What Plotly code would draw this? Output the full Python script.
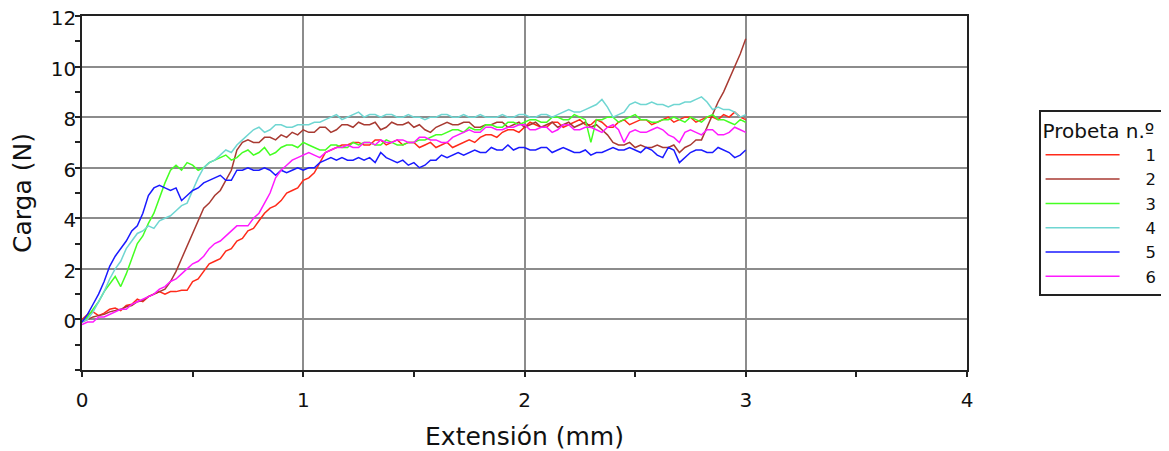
import plotly.graph_objects as go

# Extension (mm) sampling grid (0.025 mm steps)
X = [0.000, 0.025, 0.050, 0.075, 0.100, 0.125, 0.150, 0.175, 0.200, 0.225,
     0.250, 0.275, 0.300, 0.325, 0.350, 0.375, 0.400, 0.425, 0.450, 0.475,
     0.500, 0.525, 0.550, 0.575, 0.600, 0.625, 0.650, 0.675, 0.700, 0.725,
     0.750, 0.775, 0.800, 0.825, 0.850, 0.875, 0.900, 0.925, 0.950, 0.975,
     1.000, 1.025, 1.050, 1.075, 1.100, 1.125, 1.150, 1.175, 1.200, 1.225,
     1.250, 1.275, 1.300, 1.325, 1.350, 1.375, 1.400, 1.425, 1.450, 1.475,
     1.500, 1.525, 1.550, 1.575, 1.600, 1.625, 1.650, 1.675, 1.700, 1.725,
     1.750, 1.775, 1.800, 1.825, 1.850, 1.875, 1.900, 1.925, 1.950, 1.975,
     2.000, 2.025, 2.050, 2.075, 2.100, 2.125, 2.150, 2.175, 2.200, 2.225,
     2.250, 2.275, 2.300, 2.325, 2.350, 2.375, 2.400, 2.425, 2.450, 2.475,
     2.500, 2.525, 2.550, 2.575, 2.600, 2.625, 2.650, 2.675, 2.700, 2.725,
     2.750, 2.775, 2.800, 2.825, 2.850, 2.875, 2.900, 2.925, 2.950, 2.975,
     3.000]

# Load (N) for each specimen ("Probeta")
probeta_1 = [0.0, 0.2, 0.3, 0.15, 0.25, 0.4, 0.45, 0.35, 0.55, 0.6,
             0.8, 0.7, 0.9, 1.0, 1.1, 1.0, 1.1, 1.1, 1.15, 1.15,
             1.5, 1.6, 1.9, 2.2, 2.3, 2.4, 2.7, 2.8, 3.1, 3.2,
             3.5, 3.6, 3.9, 4.2, 4.4, 4.5, 4.7, 5.0, 5.1, 5.2,
             5.5, 5.6, 5.8, 6.2, 6.6, 6.7, 6.8, 6.9, 6.9, 7.0,
             7.0, 6.9, 6.9, 7.1, 7.1, 6.9, 7.0, 7.1, 6.9, 7.0,
             7.0, 6.8, 6.9, 7.0, 6.8, 6.9, 7.0, 6.8, 6.9, 7.0,
             7.1, 7.0, 7.2, 7.3, 7.3, 7.2, 7.4, 7.5, 7.5, 7.4,
             7.6, 7.8, 7.7, 7.6, 7.6, 7.8, 7.8, 7.6, 7.7, 7.8,
             7.9, 7.7, 7.7, 7.9, 7.8, 7.6, 7.6, 7.8, 7.9, 7.7,
             7.8, 7.9, 7.9, 7.7, 7.8, 7.9, 8.0, 7.8, 7.9, 8.0,
             8.0, 7.8, 7.9, 8.0, 8.0, 7.9, 8.1, 8.0, 8.2, 8.0,
             7.9]
probeta_2 = [-0.1, 0.0, 0.1, 0.15, 0.2, 0.3, 0.35, 0.4, 0.5, 0.55,
             0.7, 0.75, 0.9, 1.0, 1.1, 1.2, 1.5, 1.9, 2.4, 2.9,
             3.4, 3.9, 4.4, 4.6, 4.9, 5.1, 5.5, 5.9, 6.7, 7.0,
             7.1, 7.0, 7.0, 7.2, 7.2, 7.1, 7.3, 7.2, 7.4, 7.3,
             7.5, 7.4, 7.4, 7.6, 7.6, 7.4, 7.5, 7.7, 7.7, 7.6,
             7.8, 7.7, 7.7, 7.8, 7.5, 7.6, 7.8, 7.7, 7.7, 7.8,
             7.6, 7.7, 7.5, 7.4, 7.6, 7.7, 7.8, 7.7, 7.7, 7.8,
             7.8, 7.6, 7.6, 7.7, 7.7, 7.8, 7.8, 7.6, 7.7, 7.8,
             7.6, 7.7, 7.8, 7.6, 7.7, 7.8, 7.6, 7.7, 7.8, 7.6,
             7.7, 7.8, 7.6, 7.7, 7.5, 7.3, 7.0, 6.9, 6.9, 7.0,
             6.8, 6.9, 6.8, 6.8, 6.9, 6.8, 6.8, 6.9, 6.6, 6.8,
             6.9, 7.1, 7.1, 7.6, 8.1, 8.6, 9.0, 9.5, 10.0, 10.5,
             11.1]
probeta_3 = [-0.1, 0.1, 0.4, 0.7, 1.1, 1.4, 1.7, 1.3, 1.8, 2.4,
             3.0, 3.3, 3.8, 4.2, 4.8, 5.4, 5.9, 6.1, 5.9, 6.2,
             6.1, 5.9, 6.0, 6.2, 6.3, 6.4, 6.5, 6.3, 6.4, 6.6,
             6.7, 6.5, 6.6, 6.8, 6.5, 6.6, 6.8, 6.9, 6.9, 6.8,
             7.0, 6.9, 6.8, 6.7, 6.7, 6.9, 6.9, 6.8, 6.8, 7.0,
             6.9, 7.0, 7.0, 6.9, 6.9, 7.1, 7.0, 6.9, 6.9, 7.0,
             7.0, 7.1, 7.1, 7.2, 7.3, 7.3, 7.4, 7.5, 7.5, 7.4,
             7.6, 7.5, 7.5, 7.7, 7.7, 7.6, 7.6, 7.8, 7.8, 7.7,
             7.8, 7.9, 7.9, 7.8, 7.8, 8.0, 8.0, 7.9, 7.9, 8.1,
             8.0, 7.9, 7.0, 7.9, 7.9, 8.0, 8.0, 7.8, 7.9, 8.0,
             8.1, 7.9, 7.9, 7.8, 7.8, 7.9, 7.9, 8.0, 7.9, 7.8,
             8.0, 7.9, 7.8, 8.0, 8.1, 7.9, 7.9, 7.8, 7.7, 7.9,
             7.8]
probeta_4 = [-0.1, 0.0, 0.3, 0.7, 1.1, 1.6, 2.0, 2.3, 2.8, 3.1,
             3.4, 3.5, 3.7, 3.6, 3.9, 4.0, 4.1, 4.3, 4.5, 4.6,
             5.1, 5.6, 6.0, 6.2, 6.3, 6.5, 6.7, 6.6, 6.9, 7.1,
             7.3, 7.5, 7.6, 7.4, 7.5, 7.7, 7.7, 7.6, 7.6, 7.7,
             7.7, 7.7, 7.8, 7.8, 7.9, 8.0, 8.1, 7.9, 8.0, 8.1,
             8.2, 8.0, 8.1, 8.1, 8.0, 8.1, 8.1, 8.0, 8.0, 8.1,
             8.0, 8.0, 7.9, 8.0, 8.0, 8.1, 8.1, 8.0, 8.0, 8.1,
             8.0, 8.0, 8.1, 8.0, 8.0, 8.0, 8.1, 8.0, 8.0, 8.1,
             8.1, 8.0, 8.0, 8.1, 8.1, 8.0, 8.1, 8.2, 8.3, 8.2,
             8.2, 8.3, 8.4, 8.5, 8.7, 8.4, 8.0, 8.1, 8.2, 8.5,
             8.6, 8.5, 8.5, 8.6, 8.5, 8.5, 8.4, 8.5, 8.5, 8.6,
             8.6, 8.7, 8.8, 8.6, 8.3, 8.4, 8.3, 8.3, 8.2, 8.0,
             8.1]
probeta_5 = [-0.1, 0.2, 0.6, 1.0, 1.5, 2.1, 2.5, 2.8, 3.1, 3.5,
             3.7, 4.2, 4.9, 5.2, 5.3, 5.2, 5.1, 5.2, 4.7, 4.9,
             5.1, 5.2, 5.4, 5.5, 5.6, 5.7, 5.5, 5.5, 5.9, 5.9,
             6.0, 5.9, 5.9, 6.0, 5.9, 5.7, 5.9, 5.8, 5.9, 6.0,
             5.9, 6.0, 6.0, 6.2, 6.3, 6.4, 6.3, 6.4, 6.3, 6.3,
             6.4, 6.3, 6.4, 6.2, 6.6, 6.4, 6.3, 6.2, 6.3, 6.1,
             6.2, 6.0, 6.1, 6.3, 6.3, 6.5, 6.4, 6.5, 6.6, 6.5,
             6.6, 6.7, 6.6, 6.6, 6.8, 6.7, 6.7, 6.9, 6.7, 6.8,
             6.8, 6.7, 6.7, 6.8, 6.8, 6.6, 6.7, 6.8, 6.7, 6.6,
             6.6, 6.7, 6.5, 6.6, 6.6, 6.7, 6.8, 6.7, 6.7, 6.8,
             6.7, 6.6, 6.8, 6.7, 6.5, 6.4, 6.8, 6.7, 6.2, 6.4,
             6.6, 6.7, 6.7, 6.6, 6.6, 6.8, 6.7, 6.6, 6.4, 6.5,
             6.7]
probeta_6 = [-0.2, -0.1, -0.1, 0.1, 0.1, 0.2, 0.3, 0.4, 0.4, 0.6,
             0.7, 0.8, 0.9, 1.0, 1.2, 1.3, 1.5, 1.6, 1.8, 2.0,
             2.2, 2.3, 2.5, 2.8, 3.0, 3.1, 3.3, 3.5, 3.7, 3.7,
             3.7, 4.0, 4.2, 4.6, 5.0, 5.6, 5.9, 6.1, 6.3, 6.4,
             6.5, 6.6, 6.5, 6.4, 6.6, 6.7, 6.8, 6.8, 6.9, 6.8,
             6.8, 7.0, 7.0, 6.9, 7.1, 7.0, 7.0, 7.1, 7.1, 7.0,
             7.0, 7.2, 7.2, 7.1, 7.1, 7.0, 7.0, 7.2, 7.3, 7.4,
             7.5, 7.4, 7.4, 7.6, 7.6, 7.5, 7.5, 7.6, 7.6, 7.7,
             7.7, 7.5, 7.5, 7.6, 7.6, 7.4, 7.5, 7.7, 7.7, 7.5,
             7.5, 7.6, 7.6, 7.5, 7.4, 7.6, 7.7, 7.5, 7.0, 7.4,
             7.5, 7.4, 7.4, 7.5, 7.6, 7.5, 7.3, 7.2, 7.0, 7.4,
             7.5, 7.4, 7.3, 7.5, 7.5, 7.3, 7.3, 7.4, 7.6, 7.5,
             7.4]

series_names = ["1", "2", "3", "4", "5", "6"]
series_values = [probeta_1, probeta_2, probeta_3, probeta_4, probeta_5, probeta_6]
series_colors = ["#ff2a1a", "#a83a32", "#44ff22", "#6fd6d2", "#1a1aff", "#ff1aff"]

x_tick_vals = [0, 1, 2, 3, 4]
x_tick_text = ["0", "1", "2", "3", "4"]
y_tick_vals = [-2, 0, 2, 4, 6, 8, 10, 12]
y_tick_text = ["", "0", "2", "4", "6", "8", "10", "12"]
x_minor_vals = [0.5, 1.5, 2.5, 3.5]
y_minor_vals = [-1, 1, 3, 5, 7, 9, 11]

FONT = "DejaVu Sans"
NB = "\u00a0"
INK = "#222222"

fig = go.Figure()
for name, vals, col in zip(series_names, series_values, series_colors):
    fig.add_trace(go.Scatter(x=X, y=vals, mode="lines", name=NB * 4 + name,
                             line=dict(color=col, width=1.5)))

axis_common = dict(showline=True, linecolor=INK, linewidth=1.6, mirror=True,
                   gridcolor="#8c8c8c", gridwidth=1.6, zeroline=False, automargin=False,
                   ticks="outside", ticklen=5, tickwidth=1.6, tickcolor=INK,
                   ticklabeloverflow="allow",
                   tickfont=dict(family=FONT, size=20, color="#111111"))

# The page body adds an 8px offset, so the figure is sized 8px smaller.
fig.update_layout(
    width=1161, height=443,
    margin=dict(l=74, r=202, t=8, b=81),
    paper_bgcolor="white", plot_bgcolor="white",
    font=dict(family=FONT, size=19, color="#111111"),
    xaxis=dict(range=[0, 4], tickvals=x_tick_vals, ticktext=x_tick_text,
               ticklabelstandoff=6,
               title=dict(text="Extensión (mm)", font=dict(family=FONT, size=25), standoff=30),
               minor=dict(tickvals=x_minor_vals, ticks="outside", ticklen=5, tickwidth=1.6,
                          tickcolor=INK, showgrid=False),
               **axis_common),
    yaxis=dict(range=[-2, 12], tickvals=y_tick_vals, ticktext=y_tick_text,
               ticklabelstandoff=-5, ticklabelshift=2,
               minor=dict(tickvals=y_minor_vals, ticks="outside", ticklen=5, tickwidth=1.6,
                          tickcolor=INK, showgrid=False),
               **axis_common),
    xaxis2=dict(overlaying="x", anchor="y", side="bottom", range=[0, 4],
                tickvals=x_minor_vals, ticks="inside", ticklen=5, tickwidth=1.6,
                tickcolor=INK, showticklabels=False, showgrid=False,
                showline=False, zeroline=False),
    yaxis2=dict(overlaying="y", anchor="x", side="left", range=[-2, 12],
                tickvals=y_minor_vals, ticks="inside", ticklen=5, tickwidth=1.6,
                tickcolor=INK, showticklabels=False, showgrid=False,
                showline=False, zeroline=False),
    annotations=[dict(text="Carga (N)", textangle=-90, xref="paper", yref="paper",
                      x=-0.0678, y=0.5, xanchor="center", yanchor="middle",
                      showarrow=False, font=dict(family=FONT, size=25, color="#111111"))],
    legend=dict(xref="container", yref="container", x=0.888, y=0.7698,
                xanchor="left", yanchor="top",
                bordercolor=INK, borderwidth=1.6, bgcolor="white",
                title=dict(text="Probeta n.º", font=dict(family=FONT, size=20)),
                font=dict(family=FONT, size=16.4), itemwidth=74, tracegroupgap=0),
    showlegend=True,
)

fig.write_html("out.html")
